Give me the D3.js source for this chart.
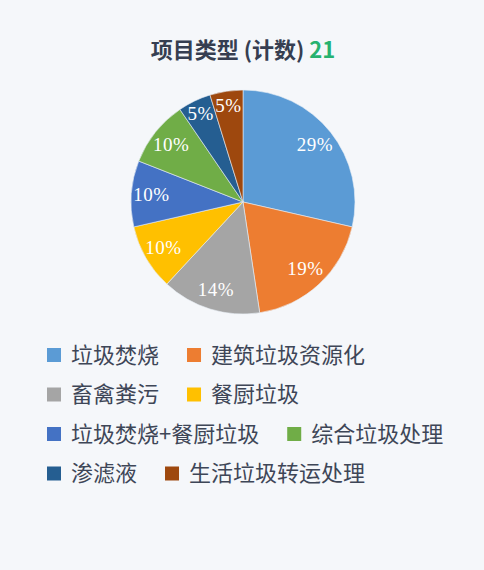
<!DOCTYPE html>
<html><head><meta charset="utf-8">
<script src="https://cdn.jsdelivr.net/npm/d3@7/dist/d3.min.js"></script>
<style>
html,body{margin:0;padding:0;background:#f5f7fa;}
svg{display:block;}
</style></head>
<body>
<svg id="c" width="484" height="570"></svg>
<script>
const categories = ["垃圾焚烧","建筑垃圾资源化","畜禽粪污","餐厨垃圾","垃圾焚烧+餐厨垃圾","综合垃圾处理","渗滤液","生活垃圾转运处理"];
const counts = [6,4,3,2,2,2,1,1];
const colors = ["#5B9BD5","#ED7D31","#A5A5A5","#FFC000","#4472C4","#70AD47","#255E91","#9E480E"];
const titleText = "项目类型 (计数) ";
const total = d3.sum(counts);

const svg = d3.select("#c");
const W = 484;

// title
const title = svg.append("text")
  .attr("x", W/2 + 1).attr("y", 58)
  .attr("text-anchor","middle")
  .style("font-family","'Noto Sans CJK SC','Noto Sans',sans-serif")
  .style("font-weight","700").style("font-size","22px")
  .attr("fill","#363e51");
title.append("tspan").text(titleText);
title.append("tspan").attr("fill","#27b26f").text(total);

// pie
const cx = 243, cy = 202, R = 112;
const data = categories.map((c,i)=>({cat:c, v:counts[i], color:colors[i]}));
const pie = d3.pie().value(d=>d.v).sort(null);
const arc = d3.arc().innerRadius(0).outerRadius(R);
const labelArc = d3.arc().innerRadius(R*0.82).outerRadius(R*0.82);
const smallArc = d3.arc().innerRadius(R*0.87).outerRadius(R*0.87);
const g = svg.append("g").attr("transform",`translate(${cx},${cy})`);
const arcs = pie(data);
g.selectAll("path").data(arcs).join("path")
  .attr("d",arc).attr("fill",d=>d.data.color)
  .attr("stroke","#e8eef5").attr("stroke-width",0.6);
const fmt = d3.format(".0%");
g.selectAll("text").data(arcs).join("text")
  .attr("transform",d=>{
    const a = (d.endAngle - d.startAngle) < 0.4 ? smallArc : labelArc;
    return `translate(${a.centroid(d)})`;
  })
  .attr("text-anchor","middle").attr("dy","0.32em")
  .style("font-family","'Liberation Serif',serif")
  .style("font-size","19px").style("letter-spacing","0.5px")
  .attr("fill","#ffffff")
  .text(d=>fmt(d.data.v/total));

// legend
const rows = [[0,1],[2,3],[4,5],[6,7]];
const lg = svg.append("g");
const rowY0 = 355, rowStep = 39.5;
const fs = 22;
rows.forEach((r,ri)=>{
  let x = 47;
  const y = rowY0 + ri*rowStep;
  r.forEach(i=>{
    lg.append("rect").attr("x",x).attr("y",y-7).attr("width",14).attr("height",14).attr("fill",colors[i]);
    const t = lg.append("text").attr("x",x+24).attr("y",y).attr("dy","0.36em")
      .style("font-family","'Noto Sans CJK SC',sans-serif")
      .style("font-size",fs+"px").attr("fill","#3e4657").text(categories[i]);
    const w = t.node().getComputedTextLength();
    x = x + 24 + w + 28;
  });
});
</script>
</body></html>
